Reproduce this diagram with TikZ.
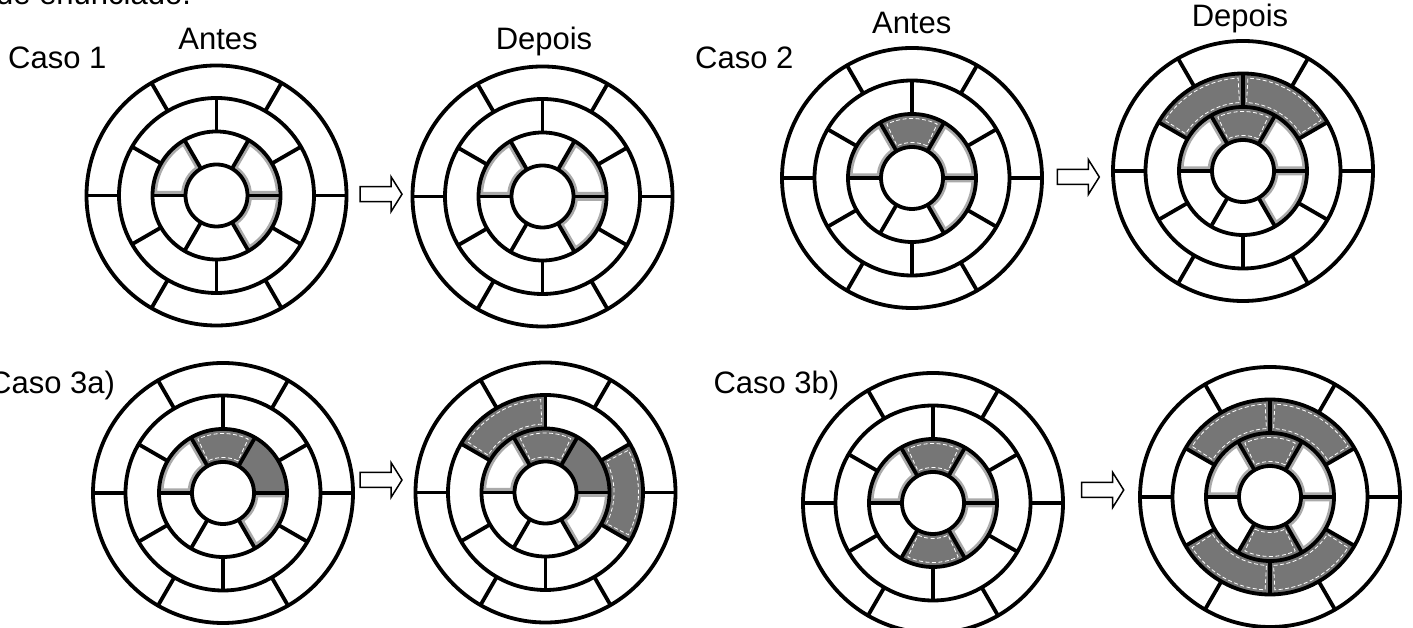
\documentclass[tikz,border=0pt]{standalone}
\usepackage{fontspec}
\setmainfont{Liberation Sans}
\definecolor{secgray}{RGB}{118,118,118}
\definecolor{speckgray}{RGB}{170,170,170}
% annular sector path: rin, rout, a1, a2
\newcommand\wsec[4]{({#3}:{#1}) arc[start angle={#3},end angle={#4},radius={#1}] -- ({#4}:{#2}) arc[start angle={#4},end angle={#3},radius={#2}] -- cycle}
% speckled (lightly shaded) sector of the third ring
\newcommand\wspeck[2]{\begin{scope}\clip \wsec{31}{64}{#1}{#2}; \draw[specks] \wsec{31}{64}{#1}{#2};\end{scope}}
% grey sector with white dashed inner outline: rin, rout, a1, a2, angular inset
\newcommand\wgrayd[5]{\fill[secfill] \wsec{#1}{#2}{#3}{#4}; \draw[secdash] \wsec{#1+4.5}{#2-4.5}{#3+#5}{#4-#5};}
\newcommand\wgray[4]{\fill[secfill] \wsec{#1}{#2}{#3}{#4};}
% black frame of a wheel
\newcommand\wframe{%
  \draw[ring] (0,0) circle[radius=31] (0,0) circle[radius=64] (0,0) circle[radius=97.5] (0,0) circle[radius=130];
  \foreach \a in {0,60,...,300} {\draw[ring] (\a:97.5) -- (\a:130); \draw[ring] (\a:31) -- (\a:64);}
  \foreach \a in {30,90,...,330} {\draw[ring] (\a:64) -- (\a:97.5);}
}
\newcommand\wbarrow[2]{\draw[blockarrow] (#1,#2+7.5) -- ++(31,0) -- ++(0,10) -- ++(11,-17.5) -- ++(-11,-17.5) -- ++(0,10) -- ++(-31,0) -- cycle;}
\begin{document}
\begin{tikzpicture}[x=1pt,y=1pt,
  ring/.style={line width=3.8pt,black},
  specks/.style={line width=9pt,speckgray},
  secfill/.style={fill=secgray},
  secdash/.style={draw=white,line width=0.8pt,dash pattern=on 4pt off 2.5pt},
  blockarrow/.style={draw=black,line width=1.5pt,fill=white,line join=miter},
  lbl/.style={inner sep=0pt,font=\fontsize{31}{36}\selectfont}]
\useasboundingbox[fill=white] (0,0) rectangle (1413,628);

% ---------- labels ----------
\node[lbl,anchor=base west] (enun) at (-4,623) {de enunciado.};
\node[lbl,anchor=base west] (caso1) at (8,559) {Caso 1};
\node[lbl,anchor=base] (antes1) at (218,578) {Antes};
\node[lbl,anchor=base] (depois1) at (544,578) {Depois};
\node[lbl,anchor=base west] (caso2) at (695,559.7) {Caso 2};
\node[lbl,anchor=base] (antes2) at (911.7,594.7) {Antes};
\node[lbl,anchor=base] (depois2) at (1240,601.3) {Depois};
\node[lbl,anchor=base west] (caso3a) at (-11,234.6) {Caso 3a)};
\node[lbl,anchor=base west] (caso3b) at (713.3,234.6) {Caso 3b)};

% ---------- Caso 1 Antes ----------
\begin{scope}[shift={(216.5,432.5)}]
  \wspeck{120}{180}\wspeck{0}{60}\wspeck{300}{360}
  \wframe
\end{scope}
% ---------- Caso 1 Depois ----------
\begin{scope}[shift={(542.5,431.5)}]
  \wspeck{120}{180}\wspeck{0}{60}\wspeck{300}{360}
  \wframe
\end{scope}
% ---------- Caso 2 Antes ----------
\begin{scope}[shift={(912,450)}]
  \wspeck{120}{180}\wspeck{0}{60}\wspeck{300}{360}
  \wgrayd{31}{64}{60}{120}{5}
  \wframe
\end{scope}
% ---------- Caso 2 Depois ----------
\begin{scope}[shift={(1243,457)}]
  \wspeck{120}{180}\wspeck{0}{60}\wspeck{300}{360}
  \wgrayd{31}{64}{60}{120}{5}
  \wgrayd{64}{97.5}{30}{90}{3}
  \wgrayd{64}{97.5}{90}{150}{3}
  \wframe
\end{scope}
% ---------- Caso 3a Antes ----------
\begin{scope}[shift={(223,135)}]
  \wspeck{120}{180}\wspeck{300}{360}
  \wgrayd{31}{64}{60}{120}{5}
  \wgray{31}{64}{0}{60}
  \wframe
\end{scope}
% ---------- Caso 3a Depois ----------
\begin{scope}[shift={(545.5,135.5)}]
  \wspeck{120}{180}\wspeck{300}{360}
  \wgrayd{31}{64}{60}{120}{5}
  \wgray{31}{64}{0}{60}
  \wgrayd{64}{97.5}{90}{150}{3}
  \wgrayd{64}{97.5}{-30}{30}{3}
  \wframe
\end{scope}
% ---------- Caso 3b Antes ----------
\begin{scope}[shift={(933,125)}]
  \wspeck{120}{180}\wspeck{0}{60}\wspeck{300}{360}
  \wgrayd{31}{64}{60}{120}{5}
  \wgrayd{31}{64}{240}{300}{5}
  \wframe
\end{scope}
% ---------- Caso 3b Depois ----------
\begin{scope}[shift={(1270,131)}]
  \wspeck{120}{180}\wspeck{0}{60}\wspeck{300}{360}
  \wgrayd{31}{64}{60}{120}{5}
  \wgrayd{31}{64}{240}{300}{5}
  \wgrayd{64}{97.5}{30}{90}{3}
  \wgrayd{64}{97.5}{90}{150}{3}
  \wgrayd{64}{97.5}{210}{270}{3}
  \wgrayd{64}{97.5}{270}{330}{3}
  \wframe
\end{scope}

% ---------- arrows ----------
\wbarrow{360}{433.8}
\wbarrow{1057.3}{451}
\wbarrow{360}{148}
\wbarrow{1081.7}{138}
\end{tikzpicture}
\end{document}
